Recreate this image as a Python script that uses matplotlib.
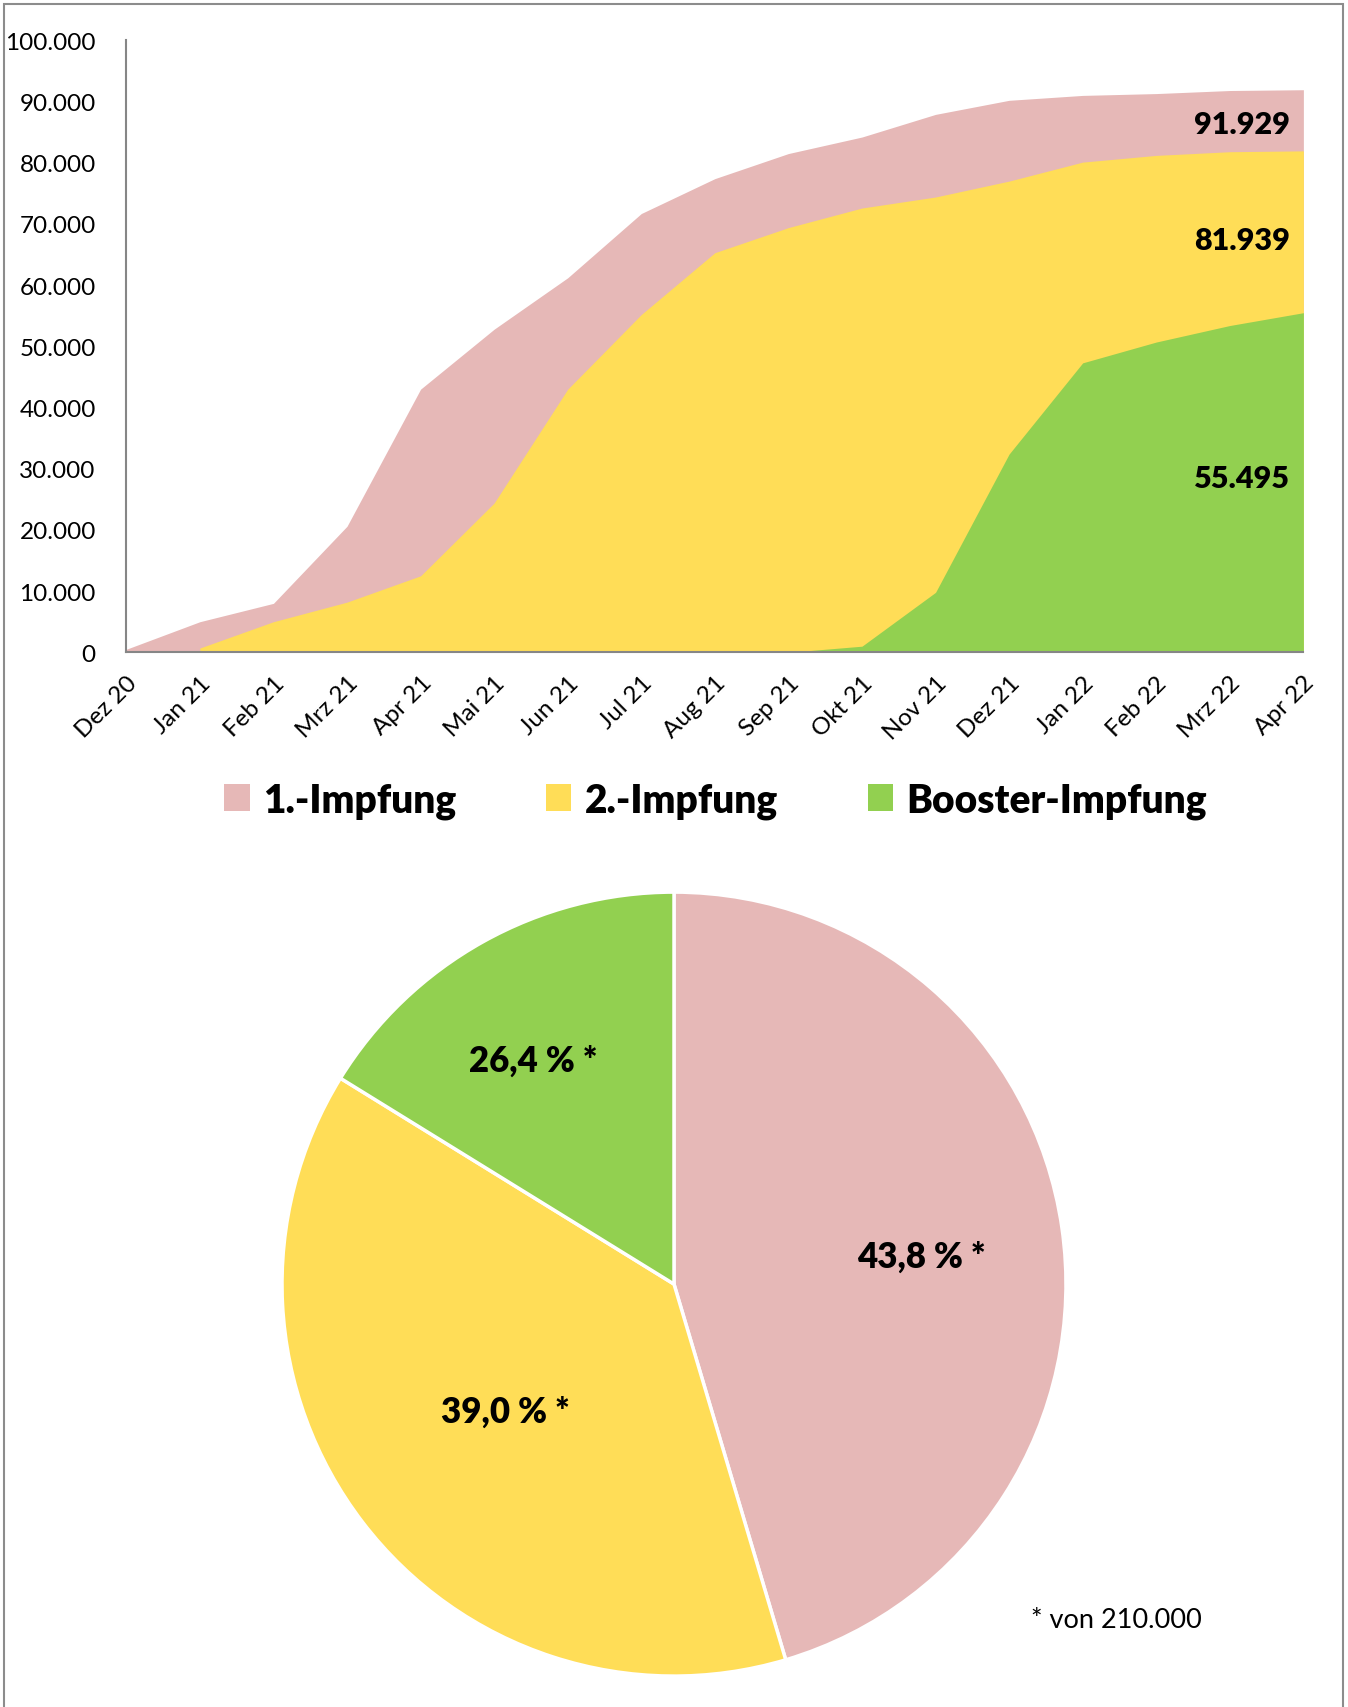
#!/usr/bin/env python3
"""
Impfungen: kumulierter Verlauf (Flaechen) und Anteile (Torte)
"""

import matplotlib
matplotlib.use('Agg')
import matplotlib.pyplot as plt
from matplotlib.patches import Patch, Rectangle
import numpy as np

plt.rcParams['font.family'] = ['Lato', 'DejaVu Sans']

months = ['Dez 20', 'Jan 21', 'Feb 21', 'Mrz 21', 'Apr 21', 'Mai 21', 'Jun 21',
          'Jul 21', 'Aug 21', 'Sep 21', 'Okt 21', 'Nov 21', 'Dez 21', 'Jan 22',
          'Feb 22', 'Mrz 22', 'Apr 22']

# cumulative numbers
first_dose = [500, 5000, 8000, 20600, 43000, 52800, 61200, 71700, 77400, 81500,
              84200, 87900, 90200, 91000, 91300, 91800, 91929]
second_dose = [np.nan, 700, 5000, 8200, 12500, 24400, 43000, 55200, 65300, 69400,
               72600, 74400, 77000, 80100, 81200, 81800, 81939]
booster = [np.nan, np.nan, np.nan, np.nan, np.nan, np.nan, np.nan, np.nan, np.nan, 0,
           1000, 9800, 32400, 47300, 50700, 53400, 55495]

end_labels = ['91.929', '81.939', '55.495']
end_label_y = [86300, 67400, 28500]

# pie: slice sizes as drawn, labels as printed
pie_names = ['1.-Impfung', '2.-Impfung', 'Booster-Impfung']
pie_sizes = [45.4, 38.4, 16.2]
pie_labels = ['43,8 % *', '39,0 % *', '26,4 % *']
footnote = '* von 210.000'

colors = ['#E6B8B7', '#FFDD57', '#92D050']

fig = plt.figure(figsize=(13.48, 17.08), dpi=100)

# ---- area chart ----
ax = fig.add_axes([0.0937, 0.6175, 0.8732, 0.3583])
x = np.arange(len(months))
for series, col in zip([first_dose, second_dose, booster], colors):
    y = np.array(series, dtype=float)
    ax.fill_between(x, 0, y, where=~np.isnan(y), color=col, linewidth=0)

ax.set_xlim(0, len(months) - 1)
ax.set_ylim(0, 100000)
ax.set_yticks(np.arange(0, 100001, 10000))
ax.set_yticklabels([f'{v:,}'.replace(',', '.') for v in range(0, 100001, 10000)])
ax.set_xticks(x)
ax.set_xticklabels(months, rotation=45, ha='right', rotation_mode='anchor')
ax.tick_params(axis='both', length=0, labelsize=17.5)
ax.tick_params(axis='y', pad=22)
ax.tick_params(axis='x', pad=14)
for side in ['top', 'right']:
    ax.spines[side].set_visible(False)
for side in ['left', 'bottom']:
    ax.spines[side].set_color('#868686')
    ax.spines[side].set_linewidth(1.5)

last = len(months) - 1
for txt, yv in zip(end_labels, end_label_y):
    ax.text(last - 0.18, yv, txt, ha='right', va='center', fontsize=22, fontweight='heavy')

handles = [Patch(facecolor=c, edgecolor='none') for c in colors]
fig.legend(handles, pie_names, loc='center', bbox_to_anchor=(0.531, 0.531), ncol=3,
           frameon=False, prop={'size': 28, 'weight': 'heavy'},
           handlelength=0.65, handleheight=0.7, handletextpad=0.35, columnspacing=2.3)

# ---- pie chart ----
pax = fig.add_axes([0.2092, 0.0181, 0.5816, 0.459])
pax.pie(pie_sizes, colors=colors, startangle=90, counterclock=False, radius=1,
        wedgeprops={'edgecolor': 'white', 'linewidth': 2.5})
pax.set_xlim(-1, 1)
pax.set_ylim(-1, 1)
pax.set_aspect('equal')
pax.axis('off')

label_pos = [(0.63, 0.07), (-0.43, -0.325), (-0.36, 0.57)]
for (lx, ly), txt in zip(label_pos, pie_labels):
    pax.text(lx, ly, txt, ha='center', va='center', fontsize=25, fontweight='heavy')

fig.text(0.828, 0.0515, footnote, ha='center', va='center', fontsize=19.5)

# outer frame
fig.patches.append(Rectangle((0.003, -0.01), 0.993, 1.007, transform=fig.transFigure,
                             fill=False, edgecolor='#8C8C8C', linewidth=1.5))

plt.savefig('out.png', dpi=100)
